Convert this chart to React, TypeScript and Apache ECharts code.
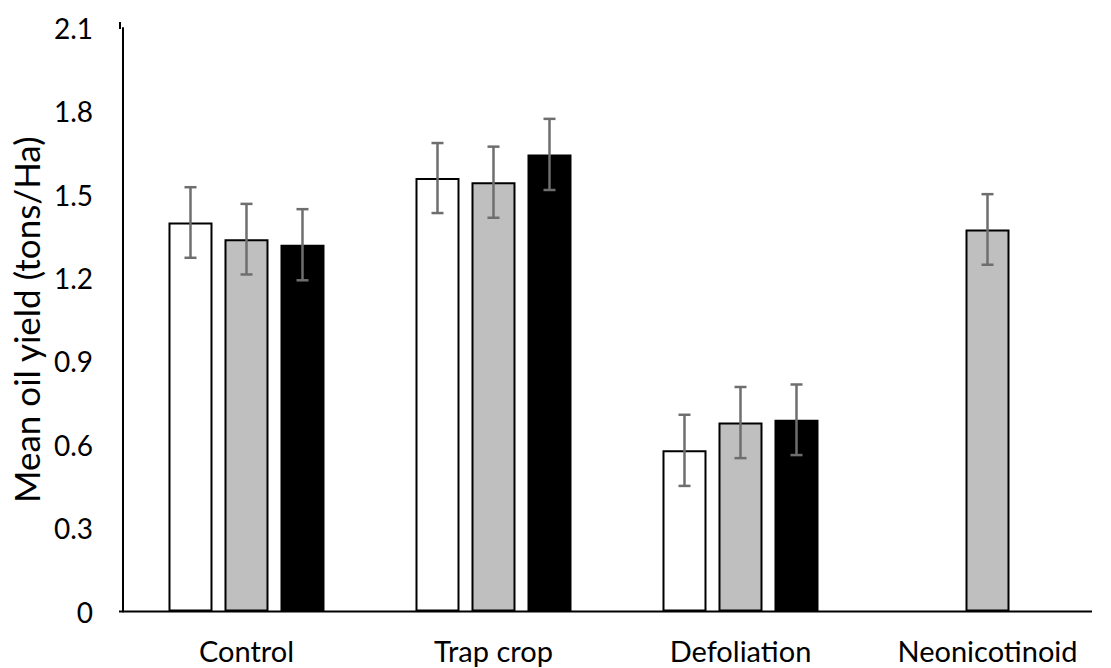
import React, { useEffect, useRef } from "react";
import * as echarts from "echarts";

const categories = ["Control", "Trap crop", "Defoliation", "Neonicotinoid"];
const whiteVals = [1.4, 1.56, 0.58, null];
const greyVals = [1.34, 1.545, 0.68, 1.375];
const blackVals = [1.32, 1.645, 0.69, null];
const whiteErr = [0.127, 0.126, 0.128, null];
const greyErr = [0.127, 0.128, 0.128, 0.127];
const blackErr = [0.128, 0.128, 0.127, null];
const yTicks = { min: 0, max: 2.1, interval: 0.3 };

const FONT = "Lato";
const BAR_W = 44;
const BAR_GAP = 12;

export default function App() {
  const ref = useRef<HTMLDivElement>(null);
  useEffect(() => {
    if (!ref.current) return;
    const chart = echarts.init(ref.current, null, { renderer: "svg" });
    const seriesVals = [whiteVals, greyVals, blackVals];
    const seriesErrs = [whiteErr, greyErr, blackErr];
    const fills = ["#ffffff", "#bfbfbf", "#000000"];

    const bars = seriesVals.map((vals, i) => ({
      type: "bar",
      name: "s" + i,
      data: vals,
      barWidth: BAR_W,
      barGap: (BAR_GAP / BAR_W) * 100 + "%",
      itemStyle: { color: fills[i], borderColor: "#000", borderWidth: 2 },
      silent: true,
    }));

    const errSeries = seriesVals.map((vals, i) => ({
      type: "custom",
      z: 5,
      silent: true,
      data: vals
        .map((v, c) =>
          v == null || seriesErrs[i][c] == null
            ? null
            : [c, (v as number) - (seriesErrs[i][c] as number), (v as number) + (seriesErrs[i][c] as number)]
        )
        .filter((d) => d != null),
      encode: { x: 0, y: [1, 2] },
      renderItem: (params: any, api: any) => {
        const off = (i - 1) * (BAR_W + BAR_GAP);
        const lo = api.coord([api.value(0), api.value(1)]);
        const hi = api.coord([api.value(0), api.value(2)]);
        const x = lo[0] + off;
        const cap = 6;
        const st = { stroke: "#6e6e6e", lineWidth: 2.5 };
        return {
          type: "group",
          children: [
            { type: "line", shape: { x1: x, y1: lo[1], x2: x, y2: hi[1] }, style: st },
            { type: "line", shape: { x1: x - cap, y1: lo[1], x2: x + cap, y2: lo[1] }, style: st },
            { type: "line", shape: { x1: x - cap, y1: hi[1], x2: x + cap, y2: hi[1] }, style: st },
          ],
        };
      },
    }));

    chart.setOption({
      animation: false,
      grid: { left: 120, top: 28, width: 1000, height: 583.5 },
      xAxis: {
        type: "category",
        data: categories,
        axisLine: { show: false },
        axisTick: { show: false },
        axisLabel: { fontFamily: FONT, fontSize: 29, color: "#000", margin: 24 },
      },
      yAxis: {
        type: "value",
        min: yTicks.min,
        max: yTicks.max,
        interval: yTicks.interval,
        name: "Mean oil yield (tons/Ha)",
        nameLocation: "middle",
        nameGap: 76,
        nameTextStyle: { fontFamily: FONT, fontSize: 35, color: "#000" },
        splitLine: { show: false },
        axisLine: { show: true, lineStyle: { color: "#000", width: 2 } },
        axisTick: { show: false },
        axisLabel: {
          fontFamily: FONT,
          fontSize: 28,
          color: "#000",
          margin: 30,
          formatter: (v: number) => (v === 0 ? "0" : v.toFixed(1)),
        },
      },
      graphic: [
        {
          type: "line",
          shape: { x1: 119, y1: 611.5, x2: 1092, y2: 611.5 },
          style: { stroke: "#000", lineWidth: 2 },
          z: 10,
        },
        {
          type: "line",
          shape: { x1: 120, y1: 22, x2: 120, y2: 29 },
          style: { stroke: "#000", lineWidth: 2 },
          z: 10,
        },
      ],
      series: [...bars, ...errSeries],
    });
    return () => chart.dispose();
  }, []);
  return (
    <div
      ref={ref}
      style={{ position: "absolute", left: 0, top: 0, width: 1111, height: 668, background: "#fff" }}
    />
  );
}
